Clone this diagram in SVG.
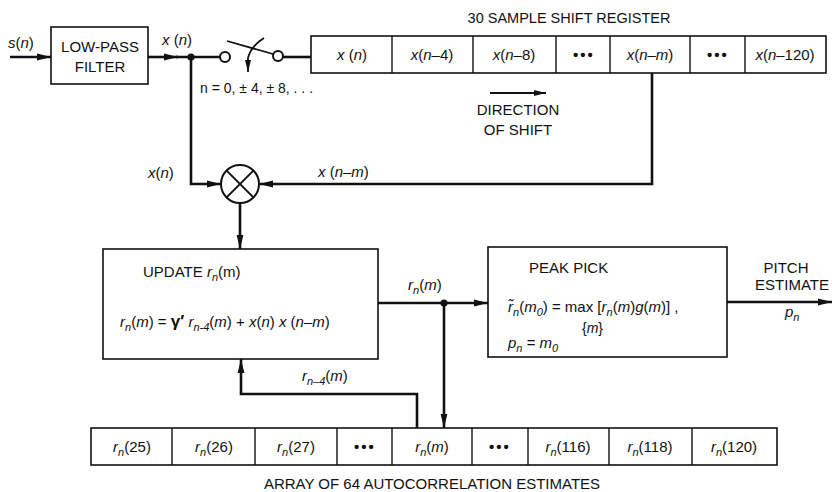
<svg xmlns="http://www.w3.org/2000/svg" width="835" height="492" viewBox="0 0 835 492">
<defs>
<style>
text{font-family:"Liberation Sans",Arial,Helvetica,sans-serif;font-size:15px;fill:#111}
.i{font-style:italic}
.s{font-size:11px;font-style:italic}
.box{fill:#fff;stroke:#111;stroke-width:1.6}
.cell{fill:none;stroke:#111;stroke-width:1.4}
.wire{fill:none;stroke:#111;stroke-width:2.6}
.thin{fill:none;stroke:#111;stroke-width:1.8}
.c{text-anchor:middle}
.dots{font-size:15px;font-weight:bold;letter-spacing:2px}
</style>
<marker id="ah" markerUnits="userSpaceOnUse" markerWidth="14" markerHeight="8" refX="14" refY="4" orient="auto"><path d="M0,0.6 L14,4 L0,7.4 z" fill="#111"/></marker>
<marker id="ahs" markerUnits="userSpaceOnUse" markerWidth="12" markerHeight="7" refX="12" refY="3.5" orient="auto"><path d="M0,0.5 L12,3.5 L0,6.5 z" fill="#111"/></marker>
</defs>
<rect width="835" height="492" fill="#fff"/>

<g id="connectors">
<line class="wire" x1="10" y1="57" x2="51" y2="57" marker-end="url(#ah)"/>
<line class="wire" x1="148" y1="57" x2="178" y2="57" marker-end="url(#ah)"/>
<line class="wire" x1="176" y1="57" x2="220" y2="57"/>
<circle cx="191" cy="57" r="3.6" fill="#111"/>
<line class="wire" x1="283" y1="57" x2="311" y2="57"/>
<polyline class="wire" points="191,57 191,184 221,184" marker-end="url(#ah)"/>
<polyline class="wire" points="652,73 652,184 259,184" marker-end="url(#ah)"/>
<line class="wire" x1="240" y1="203" x2="240" y2="249" marker-end="url(#ah)"/>
<line class="wire" x1="378" y1="303" x2="488" y2="303" marker-end="url(#ah)"/>
<circle cx="444" cy="303" r="3.6" fill="#111"/>
<line class="wire" x1="444" y1="303" x2="444" y2="428" marker-end="url(#ah)"/>
<polyline class="wire" points="417,428 417,394 241,394 241,359" marker-end="url(#ah)"/>
<line class="wire" x1="727" y1="302" x2="832" y2="302" marker-end="url(#ah)"/>
<line class="thin" x1="490" y1="93" x2="546" y2="93" marker-end="url(#ahs)"/>
</g>

<g id="input-label"><text x="8" y="48"><tspan class="i">s</tspan>(<tspan class="i">n</tspan>)</text></g>

<g id="lpf">
<rect class="box" x="51" y="27" width="97" height="57"/>
<text class="c" x="100" y="52">LOW-PASS</text>
<text class="c" x="100" y="72">FILTER</text>
</g>
<g id="xn-label-top"><text x="162" y="45"><tspan class="i">x</tspan> (<tspan class="i">n</tspan>)</text></g>

<g id="switch">
<circle cx="225" cy="57" r="5" fill="#fff" stroke="#111" stroke-width="2"/>
<circle cx="278" cy="56" r="5" fill="#fff" stroke="#111" stroke-width="2"/>
<line x1="227" y1="41" x2="273" y2="54" stroke="#111" stroke-width="1.8"/>
<path d="M264,38 Q251,46 248,58 L248,72" class="thin" marker-end="url(#ahs)"/>
<text x="200" y="93" style="font-size:14px">n = 0, ± 4, ± 8, . . .</text>
</g>

<g id="shift-register">
<text class="c" x="569" y="23" style="font-size:14.5px">30 SAMPLE SHIFT REGISTER</text>
<rect class="box" x="311" y="36" width="515" height="37"/>
<path class="cell" d="M392,36V73M473,36V73M556,36V73M610,36V73M690,36V73M745,36V73"/>
<text class="c" x="352" y="60"><tspan class="i">x</tspan> (<tspan class="i">n</tspan>)</text>
<text class="c" x="432" y="60"><tspan class="i">x</tspan>(<tspan class="i">n</tspan>–4)</text>
<text class="c" x="514" y="60"><tspan class="i">x</tspan>(<tspan class="i">n</tspan>–8)</text>
<text class="c dots" x="584" y="60">•••</text>
<text class="c" x="650" y="60"><tspan class="i">x</tspan>(<tspan class="i">n</tspan>–<tspan class="i">m</tspan>)</text>
<text class="c dots" x="718" y="60">•••</text>
<text class="c" x="785" y="60"><tspan class="i">x</tspan>(<tspan class="i">n</tspan>–120)</text>
</g>

<g id="direction">
<text class="c" x="518" y="115">DIRECTION</text>
<text class="c" x="518" y="135">OF SHIFT</text>
</g>

<g id="multiplier">
<circle cx="240" cy="184" r="19" fill="#fff" stroke="#111" stroke-width="2"/>
<path d="M226.6,170.6L253.4,197.4M253.4,170.6L226.6,197.4" stroke="#111" stroke-width="2"/>
<text x="148" y="178"><tspan class="i">x</tspan>(<tspan class="i">n</tspan>)</text>
<text x="318" y="177"><tspan class="i">x</tspan> (<tspan class="i">n</tspan>–<tspan class="i">m</tspan>)</text>
</g>

<g id="update">
<rect class="box" x="103" y="249" width="275" height="110"/>
<text x="143" y="277">UPDATE <tspan class="i">r</tspan><tspan class="s" dy="4">n</tspan><tspan dy="-4">(m)</tspan></text>
<text x="120" y="327"><tspan class="i">r</tspan><tspan class="s" dy="4">n</tspan><tspan dy="-4">(</tspan><tspan class="i">m</tspan>) = <tspan font-weight="bold" font-size="17">γ′</tspan> <tspan class="i">r</tspan><tspan class="s" dy="4">n-4</tspan><tspan dy="-4">(</tspan><tspan class="i">m</tspan>) +  <tspan class="i">x</tspan>(<tspan class="i">n</tspan>) <tspan class="i">x</tspan> (<tspan class="i">n</tspan>–<tspan class="i">m</tspan>)</text>
</g>

<g id="rn-labels">
<text x="408" y="290"><tspan class="i">r</tspan><tspan class="s" dy="4">n</tspan><tspan dy="-4">(</tspan><tspan class="i">m</tspan>)</text>
<text x="302" y="381"><tspan class="i">r</tspan><tspan class="s" dy="4">n–4</tspan><tspan dy="-4">(</tspan><tspan class="i">m</tspan>)</text>
</g>

<g id="peak-pick">
<rect class="box" x="488" y="247" width="239" height="110"/>
<text x="529" y="273">PEAK PICK</text>
<text x="508" y="312"><tspan class="i">r̃</tspan><tspan class="s" dy="4">n</tspan><tspan dy="-4">(</tspan><tspan class="i">m</tspan><tspan class="s" dy="4">0</tspan><tspan dy="-4">) = max [</tspan><tspan class="i">r</tspan><tspan class="s" dy="4">n</tspan><tspan dy="-4">(</tspan><tspan class="i">m</tspan>)<tspan class="i">g</tspan>(<tspan class="i">m</tspan>)] ,</text>
<text x="582" y="333" style="font-size:14px">{<tspan class="i">m</tspan>}</text>
<text x="508" y="348"><tspan class="i">p</tspan><tspan class="s" dy="4">n</tspan><tspan dy="-4"> = </tspan><tspan class="i">m</tspan><tspan class="s" dy="4">0</tspan></text>
</g>

<g id="pitch-output">
<text class="c" x="786" y="273">PITCH</text>
<text class="c" x="792" y="290">ESTIMATE</text>
<text x="785" y="317"><tspan class="i">p</tspan><tspan class="s" dy="4">n</tspan></text>
</g>

<g id="array">
<rect class="box" x="91" y="428" width="686" height="37"/>
<path class="cell" d="M172,428V465M255,428V465M337,428V465M392,428V465M472,428V465M528,428V465M609,428V465M692,428V465"/>
<text class="c" x="132" y="452"><tspan class="i">r</tspan><tspan class="s" dy="4">n</tspan><tspan dy="-4">(25)</tspan></text>
<text class="c" x="214" y="452"><tspan class="i">r</tspan><tspan class="s" dy="4">n</tspan><tspan dy="-4">(26)</tspan></text>
<text class="c" x="296" y="452"><tspan class="i">r</tspan><tspan class="s" dy="4">n</tspan><tspan dy="-4">(27)</tspan></text>
<text class="c dots" x="365" y="452">•••</text>
<text class="c" x="432" y="452"><tspan class="i">r</tspan><tspan class="s" dy="4">n</tspan><tspan dy="-4">(</tspan><tspan class="i">m</tspan>)</text>
<text class="c dots" x="500" y="452">•••</text>
<text class="c" x="568" y="452"><tspan class="i">r</tspan><tspan class="s" dy="4">n</tspan><tspan dy="-4">(116)</tspan></text>
<text class="c" x="650" y="452"><tspan class="i">r</tspan><tspan class="s" dy="4">n</tspan><tspan dy="-4">(118)</tspan></text>
<text class="c" x="734" y="452"><tspan class="i">r</tspan><tspan class="s" dy="4">n</tspan><tspan dy="-4">(120)</tspan></text>
<text class="c" x="432" y="489">ARRAY OF 64 AUTOCORRELATION ESTIMATES</text>
</g>
</svg>
